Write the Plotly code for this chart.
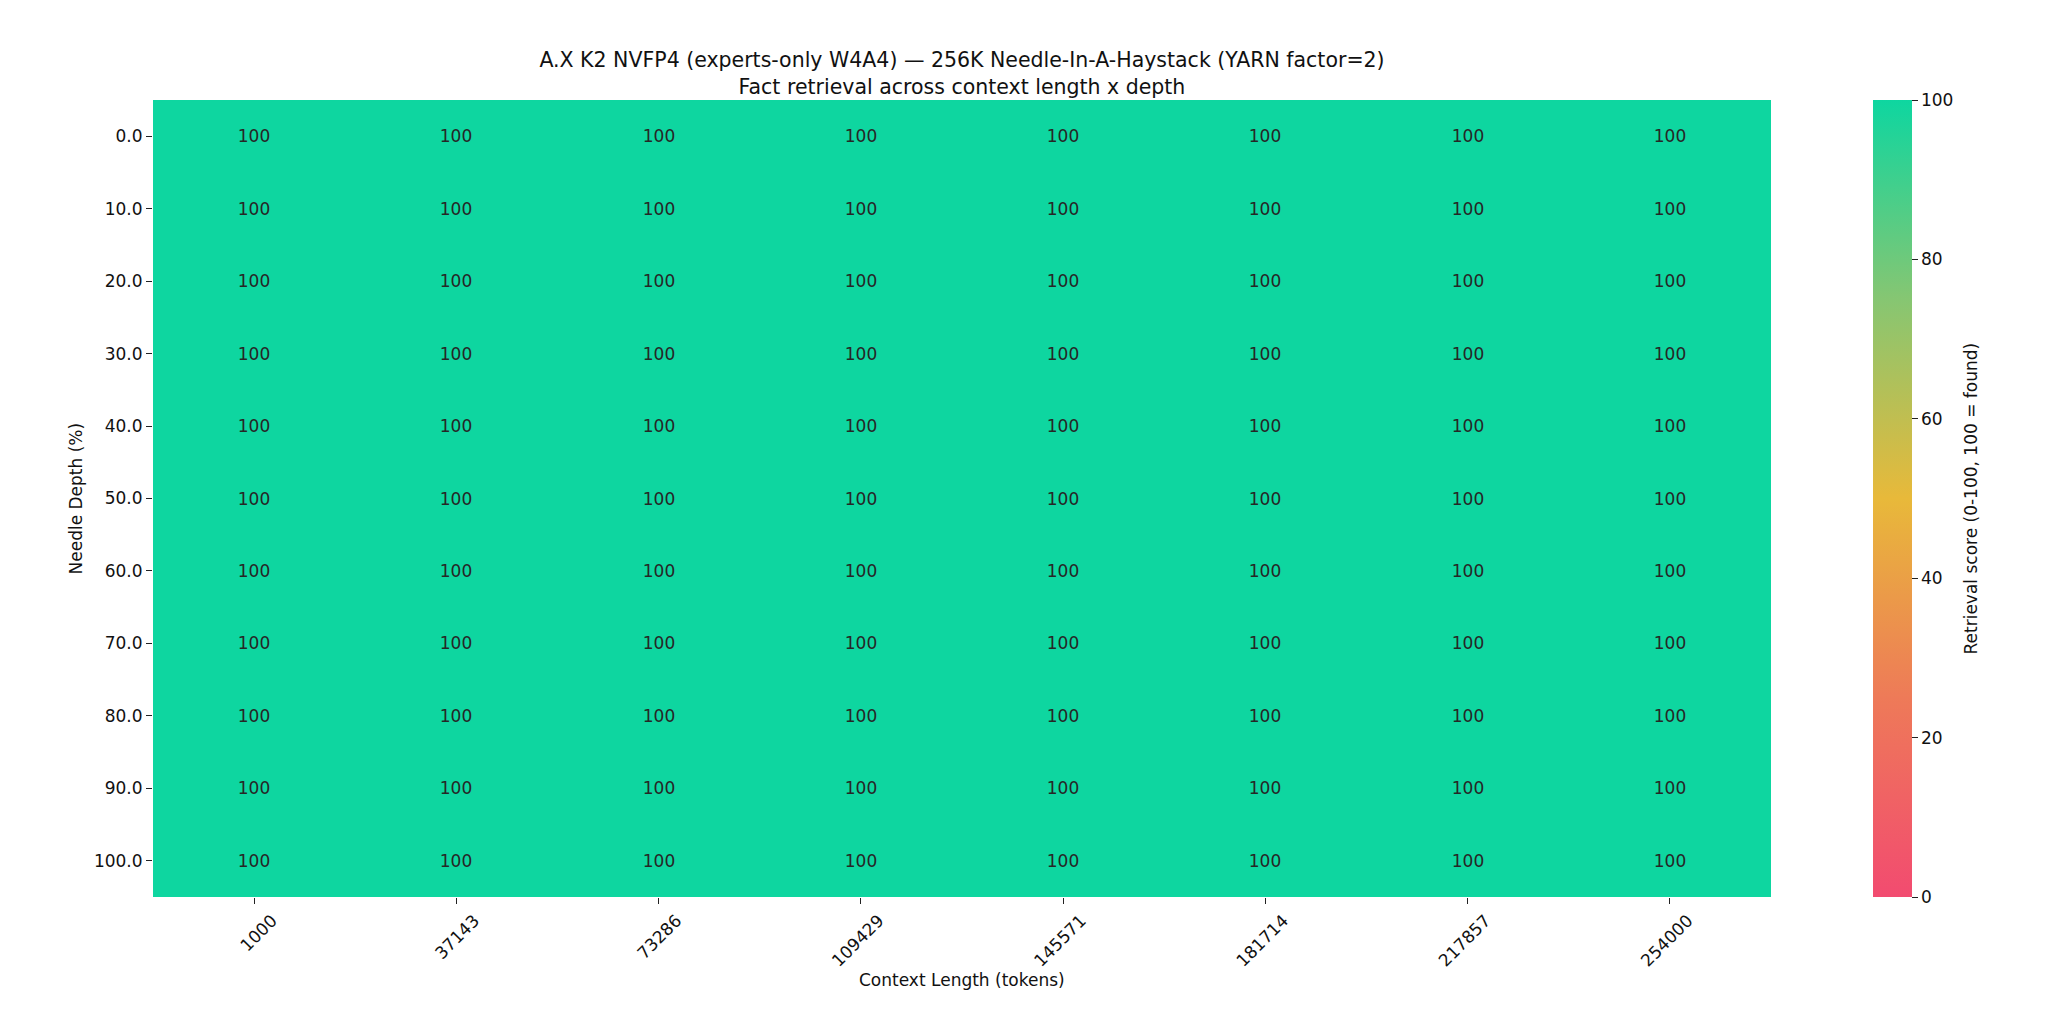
import plotly.graph_objects as go

context_lengths = ["1000", "37143", "73286", "109429", "145571", "181714", "217857", "254000"]
depth_labels = ["0.0", "10.0", "20.0", "30.0", "40.0", "50.0", "60.0", "70.0", "80.0", "90.0", "100.0"]
scores = [
    [100, 100, 100, 100, 100, 100, 100, 100],
    [100, 100, 100, 100, 100, 100, 100, 100],
    [100, 100, 100, 100, 100, 100, 100, 100],
    [100, 100, 100, 100, 100, 100, 100, 100],
    [100, 100, 100, 100, 100, 100, 100, 100],
    [100, 100, 100, 100, 100, 100, 100, 100],
    [100, 100, 100, 100, 100, 100, 100, 100],
    [100, 100, 100, 100, 100, 100, 100, 100],
    [100, 100, 100, 100, 100, 100, 100, 100],
    [100, 100, 100, 100, 100, 100, 100, 100],
    [100, 100, 100, 100, 100, 100, 100, 100],
]
cbar_ticks = [0, 20, 40, 60, 80, 100]

TITLE = "A.X K2 NVFP4 (experts-only W4A4) — 256K Needle-In-A-Haystack (YARN factor=2)<br>Fact retrieval across context length x depth"
X_TITLE = "Context Length (tokens)"
Y_TITLE = "Needle Depth (%)"
CB_TITLE = "Retrieval score (0-100, 100 = found)"
FONT = "DejaVu Sans, sans-serif"

colorscale = [
    [0.0, "#F24B70"],
    [0.25, "#EE7A58"],
    [0.5, "#E8B93A"],
    [0.75, "#86C672"],
    [1.0, "#0ED6A0"],
]

# page body has an 8px default margin; figure sized to fill the remaining 2040x1016
W, H = 2040, 1016
L, R, T, B = 145, 277, 92, 127
pw = W - L - R
ph = H - T - B

fig = go.Figure(
    go.Heatmap(
        z=scores,
        x=context_lengths,
        y=depth_labels,
        zmin=0,
        zmax=100,
        colorscale=colorscale,
        texttemplate="%{z:.0f}",
        textfont=dict(family=FONT, size=17, color="#262626"),
        xgap=0,
        ygap=0,
        colorbar=dict(
            thickness=39,
            len=1.0,
            lenmode="fraction",
            y=0.5,
            yanchor="middle",
            x=(1865 - L) / pw,
            xanchor="left",
            xpad=0,
            ypad=0,
            outlinewidth=0,
            ticks="outside",
            ticklen=6,
            tickcolor="#222",
            tickvals=cbar_ticks,
            tickfont=dict(family=FONT, size=17, color="#111"),
        ),
    )
)

annot_font = dict(family=FONT, size=17, color="#111")

fig.update_layout(
    width=W,
    height=H,
    margin=dict(l=L, r=R, t=T, b=B),
    paper_bgcolor="white",
    plot_bgcolor="white",
    title=dict(
        text=TITLE,
        x=954 / W,
        xanchor="center",
        y=1 - 59 / H,
        yanchor="top",
        font=dict(family=FONT, size=20.5, color="#111"),
    ),
    xaxis=dict(
        automargin=False,
        tickangle=-45,
        ticks="outside",
        ticklen=6,
        tickcolor="#222",
        tickfont=dict(family=FONT, size=17, color="#111"),
        ticklabelshift=18,
        showgrid=False,
        zeroline=False,
        showline=False,
    ),
    yaxis=dict(
        automargin=False,
        autorange="reversed",
        ticks="outside",
        ticklen=6,
        tickcolor="#222",
        tickfont=dict(family=FONT, size=17, color="#111"),
        showgrid=False,
        zeroline=False,
        showline=False,
    ),
    annotations=[
        dict(
            text=X_TITLE,
            xref="paper",
            yref="paper",
            x=0.5,
            y=-83 / ph,
            xanchor="center",
            yanchor="middle",
            showarrow=False,
            font=annot_font,
        ),
        dict(
            text=Y_TITLE,
            xref="paper",
            yref="paper",
            x=(67 - L) / pw,
            y=0.5,
            xanchor="center",
            yanchor="middle",
            textangle=-90,
            showarrow=False,
            font=annot_font,
        ),
        dict(
            text=CB_TITLE,
            xref="paper",
            yref="paper",
            x=(1962 - L) / pw,
            y=0.5,
            xanchor="center",
            yanchor="middle",
            textangle=-90,
            showarrow=False,
            font=annot_font,
        ),
    ],
)

fig.write_html("out.html")
